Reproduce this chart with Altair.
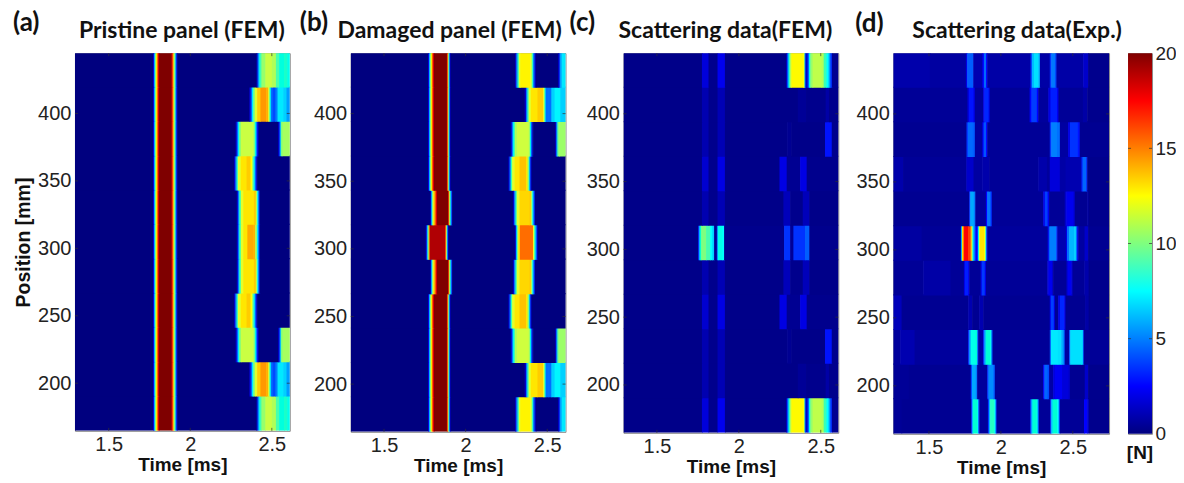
import altair as alt
import pandas as pd

JET = ["#00007F", "#0000FF", "#007FFF", "#00FFFF", "#7FFF7F", "#FFFF00", "#FF7F00", "#FF0000", "#7F0000"]
JET_DOMAIN = [0, 2.5, 5, 7.5, 10, 12.5, 15, 17.5, 20]
ROW_EDGES = [164.7, 190.2, 215.6, 241.1, 266.5, 292.0, 317.4, 342.9, 368.3, 393.8, 419.2, 444.7]
X_TICKS = [1.5, 2, 2.5]
Y_TICKS = [200, 250, 300, 350, 400]
BAR_TICKS = [0, 5, 10, 15, 20]

# Every row is a list of (time of step, force) pairs; a value holds until the next step.
MAIN_A = [(1.293, 0), (1.772, 2), (1.778, 6), (1.784, 10), (1.79, 13), (1.796, 15.5), (1.802, 18), (1.808, 20),
          (1.885, 18), (1.891, 15), (1.897, 12), (1.903, 9), (1.909, 5), (1.915, 2), (1.92, 0)]
A10 = [(2.405, 1), (2.412, 4), (2.419, 7), (2.426, 9), (2.436, 10.5), (2.46, 11.5), (2.50, 11), (2.525, 9.2), (2.545, 8.3), (2.575, 8.7), (2.595, 8)]
A9 = [(2.362, 1.5), (2.37, 4), (2.378, 7), (2.386, 10), (2.396, 12), (2.41, 13.5), (2.43, 14.5), (2.465, 14), (2.478, 12), (2.486, 8), (2.494, 4.5), (2.505, 3.5), (2.522, 5), (2.535, 7), (2.57, 6.5), (2.59, 5.5)]
A8 = [(2.278, 1.5), (2.285, 4), (2.292, 7), (2.30, 10), (2.31, 11.5), (2.385, 11), (2.395, 8), (2.402, 5), (2.41, 2), (2.418, 0), (2.54, 2), (2.548, 6), (2.556, 10), (2.565, 10.8)]
A7 = [(2.268, 1.5), (2.276, 5), (2.284, 9), (2.292, 12), (2.31, 13), (2.345, 13.5), (2.37, 12.5), (2.38, 10), (2.388, 7), (2.396, 4), (2.404, 1.5), (2.41, 0)]
A6 = [(2.285, 1.5), (2.292, 5), (2.30, 9), (2.31, 12), (2.325, 13), (2.39, 13.5), (2.402, 11), (2.41, 7), (2.418, 3), (2.425, 0)]
A5 = [(2.285, 1.5), (2.292, 5), (2.30, 9), (2.31, 12), (2.325, 13), (2.35, 14.2), (2.385, 14), (2.398, 11), (2.408, 7), (2.418, 3), (2.425, 0)]
PANEL_A = [A10, A9, A8, A7, A6, A5, A6, A7, A8, A9, A10]
PANEL_A = [MAIN_A + r for r in PANEL_A]

MAIN_B = [(1.296, 0), (1.77, 2), (1.776, 6), (1.782, 10), (1.788, 13), (1.794, 16), (1.80, 18), (1.806, 20),
          (1.885, 18), (1.889, 14), (1.893, 10), (1.897, 6), (1.902, 2), (1.907, 0)]
B_MAIN6 = [(1.296, 0), (1.784, 2), (1.79, 7), (1.796, 11), (1.802, 13), (1.81, 16), (1.818, 18), (1.824, 20),
           (1.893, 18), (1.897, 13), (1.902, 9), (1.907, 6), (1.912, 3), (1.917, 0)]
B_MAIN5 = [(1.296, 0), (1.756, 2), (1.762, 6), (1.768, 10), (1.774, 15), (1.78, 19), (1.875, 16), (1.88, 11), (1.885, 6), (1.89, 2), (1.895, 0)]
B10 = [(2.303, 1.5), (2.31, 5), (2.318, 9), (2.326, 12), (2.335, 12.7), (2.395, 12), (2.405, 9), (2.413, 5), (2.422, 1.5), (2.43, 0), (2.568, 2), (2.576, 5.5), (2.588, 7)]
B9 = [(2.362, 1.5), (2.37, 5), (2.378, 9), (2.386, 12), (2.40, 13), (2.44, 13.5), (2.475, 12), (2.483, 8), (2.49, 4.5), (2.505, 4.5), (2.525, 6.5), (2.545, 7.3), (2.58, 6.5)]
B8 = [(2.276, 1.5), (2.283, 5), (2.291, 8), (2.30, 11), (2.315, 11.6), (2.385, 11.3), (2.393, 8), (2.40, 4), (2.408, 1), (2.414, 0), (2.55, 2), (2.556, 6), (2.563, 10), (2.572, 10.6)]
B7 = [(2.262, 1.5), (2.269, 5), (2.277, 9), (2.285, 12), (2.30, 13), (2.33, 13.7), (2.37, 13), (2.38, 10), (2.388, 6), (2.396, 2), (2.403, 0)]
B6 = [(2.29, 1.5), (2.297, 5), (2.305, 9), (2.313, 12), (2.33, 13.3), (2.39, 13.5), (2.40, 11), (2.408, 7), (2.416, 3), (2.424, 0)]
B5 = [(2.302, 1.5), (2.308, 6), (2.315, 10), (2.322, 13), (2.332, 15.6), (2.405, 15.3), (2.413, 12), (2.421, 8), (2.429, 4), (2.437, 1.5), (2.442, 0)]
PANEL_B = [MAIN_B + B10, MAIN_B + B9, MAIN_B + B8, MAIN_B + B7, B_MAIN6 + B6, B_MAIN5 + B5,
           B_MAIN6 + B6, MAIN_B + B7, MAIN_B + B8, MAIN_B + B9, MAIN_B + B10]

C_WEAK = [(1.296, 0.2), (1.775, 1), (1.815, 0.3), (1.87, 1.1), (1.915, 0.2)]
C_MID = [(1.296, 0.2), (1.775, 1.6), (1.815, 0.3), (1.87, 2), (1.915, 0.2)]
C_TOP = [(1.296, 0.2), (1.775, 1.8), (1.815, 0.3), (1.87, 2.2), (1.915, 0.2)]
C10 = [(2.29, 2), (2.296, 5), (2.303, 8), (2.31, 11), (2.32, 12.6), (2.393, 12.4), (2.40, 6), (2.406, 1.6), (2.42, 4), (2.428, 8), (2.436, 10.5), (2.45, 11.3), (2.505, 11), (2.518, 9), (2.535, 7.5), (2.548, 5.5), (2.558, 3), (2.568, 0.4)]
C9 = [(2.36, 0.5), (2.41, 0.3), (2.53, 0.8), (2.55, 0.3)]
C8 = [(2.295, 0.4), (2.32, 0.2), (2.526, 2.6), (2.567, 0.3)]
C7 = [(2.248, 2), (2.292, 0.4), (2.374, 2), (2.414, 0.3)]
C6 = [(2.272, 1.2), (2.313, 0.3), (2.39, 1.2), (2.43, 0.2)]
C_MAIN5 = [(1.296, 0.2), (1.752, 3), (1.757, 6), (1.763, 8.5), (1.77, 10), (1.80, 9.2), (1.825, 7.5), (1.838, 6.5), (1.849, 0.5),
           (1.866, 5), (1.872, 8), (1.90, 7.5), (1.91, 0.3)]
C5 = [(2.276, 3), (2.313, 0.5), (2.333, 3), (2.404, 4), (2.43, 0.3)]
PANEL_C = [C_TOP + C10, C_WEAK + C9, C_WEAK + C8, C_MID + C7, C_WEAK + C6, C_MAIN5 + C5,
           C_WEAK + C6, C_MID + C7, C_WEAK + C8, C_WEAK + C9, C_TOP + C10]

D10 = [(1.252, 0.9), (1.507, 0.7), (1.757, 2), (1.766, 4), (1.798, 4), (1.808, 1), (1.872, 2.5), (1.882, 4.3), (1.897, 2.5), (1.905, 0.8), (2.206, 3), (2.215, 6), (2.23, 6.8), (2.26, 6), (2.271, 0.8), (2.34, 3), (2.35, 4.8), (2.376, 3.5), (2.386, 0.8), (2.572, 1.5), (2.606, 0.3)]
D9 = [(1.252, 0.5), (1.768, 1.8), (1.778, 2.6), (1.81, 2), (1.819, 0.6), (1.877, 2), (1.885, 2.8), (1.915, 2), (1.923, 0.5), (2.2, 2.5), (2.212, 3.2), (2.25, 2.5), (2.26, 0.6), (2.33, 2), (2.345, 2.7), (2.39, 2.2), (2.40, 0.5), (2.57, 0.8), (2.6, 0.3)]
D8 = [(1.252, 0.4), (1.761, 3), (1.77, 4.3), (1.805, 4), (1.819, 0.7), (1.872, 2.5), (1.88, 3.7), (1.897, 2.5), (1.905, 0.5), (2.34, 3), (2.35, 5), (2.39, 4.5), (2.41, 0.7), (2.467, 2), (2.48, 3), (2.535, 2.6), (2.548, 0.4)]
D7 = [(1.252, 0.9), (1.32, 0.5), (1.76, 1.5), (1.81, 0.7), (1.87, 0.9), (1.92, 0.5), (2.26, 0.9), (2.32, 0.6), (2.34, 1.8), (2.41, 0.8), (2.45, 1), (2.56, 2.8), (2.568, 4.2), (2.592, 3), (2.6, 0.3)]
D6 = [(1.252, 0.4), (1.78, 3), (1.787, 5.7), (1.812, 5), (1.822, 0.6), (1.896, 2.5), (1.905, 4.7), (1.928, 3), (1.937, 0.5), (2.294, 2), (2.305, 3.2), (2.325, 2.2), (2.335, 0.5), (2.444, 1.5), (2.455, 2.2), (2.505, 1.6), (2.514, 0.4), (2.6, 0.7), (2.61, 0.3)]
D5 = [(1.252, 0.7), (1.45, 0.5), (1.722, 3), (1.726, 8), (1.73, 13), (1.736, 15), (1.744, 17.5), (1.772, 16.8), (1.786, 15.5), (1.795, 12), (1.802, 8), (1.81, 5), (1.822, 2.5), (1.836, 3), (1.842, 8), (1.848, 12), (1.854, 13), (1.885, 12.5), (1.892, 8), (1.898, 3), (1.905, 0.6), (2.325, 2), (2.333, 4), (2.34, 5), (2.375, 5), (2.385, 3), (2.392, 1), (2.452, 2), (2.46, 4.5), (2.475, 6), (2.51, 6.5), (2.522, 4.5), (2.53, 2), (2.538, 0.7), (2.582, 1.5), (2.606, 0.4)]
D4 = [(1.252, 0.5), (1.46, 0.8), (1.65, 0.5), (1.743, 2), (1.75, 2.7), (1.772, 2.2), (1.78, 0.5), (1.859, 2), (1.867, 3.1), (1.888, 2.2), (1.896, 0.5), (2.322, 1.5), (2.33, 2.2), (2.355, 1.6), (2.363, 0.5), (2.456, 1.5), (2.464, 2.2), (2.49, 1.6), (2.498, 0.5), (2.58, 0.9), (2.61, 0.3)]
D3 = [(1.252, 1.2), (1.31, 0.4), (1.773, 1), (1.8, 0.4), (1.85, 1), (1.878, 0.4), (2.34, 2.2), (2.347, 3.2), (2.368, 2.2), (2.375, 0.4), (2.398, 2), (2.41, 2.8), (2.44, 2), (2.449, 0.4), (2.585, 0.8), (2.61, 0.3)]
D2 = [(1.252, 0.6), (1.30, 1), (1.40, 0.6), (1.773, 3), (1.78, 5.5), (1.79, 8), (1.825, 8.5), (1.834, 5), (1.842, 0.8), (1.877, 3), (1.885, 6), (1.895, 8.5), (1.925, 8), (1.934, 4), (1.942, 0.5), (2.34, 4), (2.348, 7), (2.395, 6.8), (2.42, 5.8), (2.436, 4), (2.444, 0.7), (2.474, 4), (2.482, 6.8), (2.56, 6.8), (2.57, 4), (2.576, 0.5)]
D1 = [(1.252, 0.5), (1.36, 0.4), (1.791, 3), (1.798, 5.7), (1.826, 5), (1.835, 0.6), (1.905, 3), (1.913, 5.2), (1.948, 4), (1.958, 0.5), (2.294, 2.5), (2.302, 4.2), (2.325, 3.5), (2.335, 0.8), (2.363, 1.8), (2.375, 2.3), (2.425, 1.8), (2.47, 1.5), (2.48, 0.4), (2.583, 1.5), (2.606, 0.3)]
D0 = [(1.252, 0.5), (1.31, 0.4), (1.794, 3), (1.8, 6), (1.806, 8.5), (1.834, 8), (1.842, 4), (1.85, 0.6), (1.91, 3), (1.917, 6), (1.925, 8.8), (1.955, 7.5), (1.963, 3.5), (1.97, 0.5), (2.204, 3), (2.212, 6.5), (2.22, 8.5), (2.247, 8), (2.256, 4), (2.264, 0.5), (2.343, 3), (2.35, 6.5), (2.36, 8.5), (2.392, 7.5), (2.402, 3.5), (2.41, 0.5), (2.578, 2.5), (2.6, 1.5), (2.611, 0.3)]
PANEL_D = [D10, D9, D8, D7, D6, D5, D4, D3, D2, D1, D0]

TITLES = ["Pristine panel (FEM)", "Damaged panel (FEM)", "Scattering data(FEM)", "Scattering data(Exp.)"]
TAGS = ["(a)", "(b)", "(c)", "(d)"]

TXT = "#222222"
TICK = "#303030"


def cells(rows, x_max):
    """Turn top-to-bottom rows of steps into rectangles, drawn bottom row first."""
    out = []
    for k, row in enumerate(reversed(rows)):
        for j, (t, v) in enumerate(row):
            end = row[j + 1][0] if j + 1 < len(row) else x_max
            out.append({"t0": t, "t1": end + 0.004, "p0": ROW_EDGES[k], "p1": ROW_EDGES[k + 1] + 0.8, "v": v})
    return pd.DataFrame(out)


def note(text, font, size, x, y, align="left"):
    return alt.Chart(pd.DataFrame({"s": [text]})).mark_text(
        font=font, fontWeight="bold", fontSize=size, color="#111111", align=align, baseline="middle"
    ).encode(text="s:N", x=alt.value(x), y=alt.value(y))


def panel(rows, xdom, w, h, title, title_x, tag, tag_x, tag_y, y_title=None):
    x = alt.X("t0:Q", scale=alt.Scale(domain=xdom, nice=False, zero=False),
              axis=alt.Axis(values=X_TICKS, format="~g", ticks=False, domain=False, grid=False,
                            labelFont="Liberation Sans", labelFontSize=20, labelColor=TXT, labelPadding=4,
                            title="Time [ms]", titleFont="Liberation Sans", titleFontSize=19, titleFontWeight="bold",
                            titleColor="#111111", titlePadding=1))
    y = alt.Y("p0:Q", scale=alt.Scale(domain=[ROW_EDGES[0], ROW_EDGES[-1]], nice=False, zero=False),
              axis=alt.Axis(values=Y_TICKS, ticks=False, domain=False, grid=False,
                            labelFont="Liberation Sans", labelFontSize=20, labelColor=TXT, labelPadding=4,
                            title=y_title, titleFont="Liberation Sans", titleFontSize=19.5, titleFontWeight="bold",
                            titleColor="#111111", titlePadding=4))
    heat = alt.Chart(cells(rows, xdom[1])).mark_rect(clip=True).encode(
        x=x, x2="t1:Q", y=y, y2="p1:Q",
        color=alt.Color("v:Q", legend=None, scale=alt.Scale(domain=JET_DOMAIN, range=JET)),
    )
    xt = pd.DataFrame({"t0": X_TICKS})
    yt = pd.DataFrame({"p0": Y_TICKS})
    ticks = [
        alt.Chart(xt).mark_rule(color=TICK, opacity=0.7).encode(x=alt.X("t0:Q"), y=alt.value(0), y2=alt.value(3)),
        alt.Chart(xt).mark_rule(color=TICK, opacity=0.7).encode(x=alt.X("t0:Q"), y=alt.value(h - 3), y2=alt.value(h)),
        alt.Chart(yt).mark_rule(color=TICK, opacity=0.7).encode(y=alt.Y("p0:Q"), x=alt.value(0), x2=alt.value(3)),
        alt.Chart(yt).mark_rule(color=TICK, opacity=0.7).encode(y=alt.Y("p0:Q"), x=alt.value(w - 3), x2=alt.value(w)),
    ]
    return alt.layer(heat, *ticks, note(tag, "Lato", 26, tag_x, tag_y),
                     note(title, "Lato", 23, title_x, -22, "center")).properties(width=w, height=h)


def spacer(w):
    return alt.Chart(pd.DataFrame({"a": [0]})).mark_point(opacity=0).properties(
        width=w, height=10, view=alt.ViewConfig(stroke="transparent"))


a = panel(PANEL_A, [1.293, 2.61], 215, 378, TITLES[0], 107, TAGS[0], -62, -30, "Position [mm]")
b = panel(PANEL_B, [1.296, 2.612], 215, 379, TITLES[1], 99, TAGS[1], -51, -30)
c = panel(PANEL_C, [1.296, 2.607], 215, 380, TITLES[2], 102, TAGS[2], -54, -30)
d = panel(PANEL_D, [1.252, 2.752], 216, 381, TITLES[3], 124, TAGS[3], -38, -29)

bar_range = pd.DataFrame({"low": [BAR_TICKS[0]], "high": [BAR_TICKS[-1]]})
stops = [alt.GradientStop(offset=i / (len(JET) - 1), color=c_) for i, c_ in enumerate(JET)]
bar_fill = alt.Chart(bar_range).mark_rect(
    color=alt.Gradient(gradient="linear", stops=stops, x1=0, x2=0, y1=1, y2=0)
).encode(
    y=alt.Y("low:Q", scale=alt.Scale(domain=[0, 20], nice=False),
            axis=alt.Axis(values=BAR_TICKS, orient="right", ticks=False, domain=False, grid=False,
                          labelFont="Liberation Sans", labelFontSize=19, labelColor=TXT, labelPadding=3, title=None)),
    y2="high:Q",
)
bt = pd.DataFrame({"low": BAR_TICKS[1:-1]})
bar_tick_l = alt.Chart(bt).mark_rule(color=TICK, opacity=0.7).encode(y=alt.Y("low:Q"), x=alt.value(0), x2=alt.value(3))
bar_tick_r = alt.Chart(bt).mark_rule(color=TICK, opacity=0.7).encode(y=alt.Y("low:Q"), x=alt.value(21), x2=alt.value(24))
unit = note("[N]", "Liberation Sans", 19, 12, 400, "center")
bar = alt.layer(bar_fill, bar_tick_l, bar_tick_r, unit).properties(width=24, height=381)

chart = alt.hconcat(a, spacer(61), b, spacer(58), c, spacer(55), d, spacer(19), bar, spacing=0, bounds="flush").properties(
    padding={"left": 4, "top": 1, "right": -1, "bottom": 0}
).configure_view(stroke="#8c8c8c", strokeWidth=1)

chart.save("out.html", embed_options={"renderer": "svg", "actions": False})
